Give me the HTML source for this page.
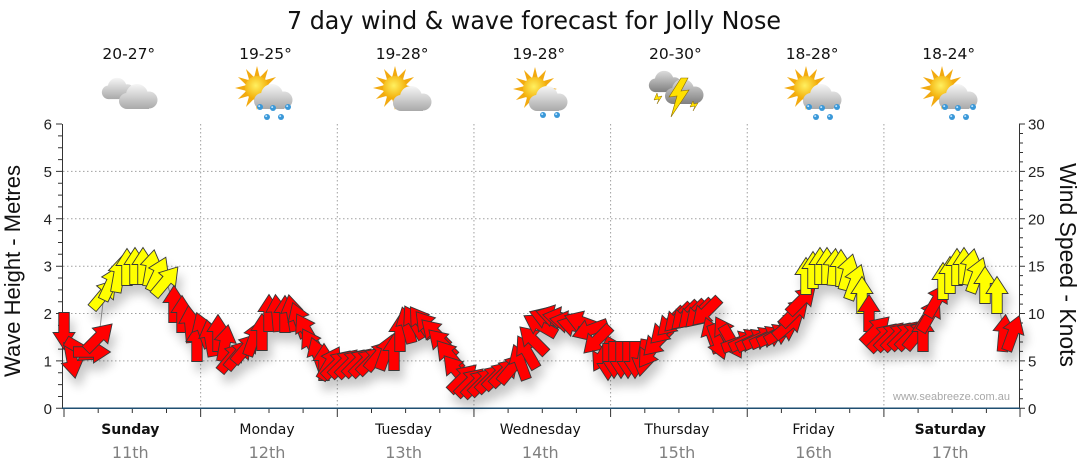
<!DOCTYPE html>
<html>
<head>
<meta charset="utf-8">
<style>
html,body{margin:0;padding:0;background:#fff;}
svg{display:block;}
.tl{font-family:"Liberation Sans",Arial,sans-serif;font-size:15px;fill:#222;}
.tmp{font-family:"DejaVu Sans","Liberation Sans",sans-serif;font-size:15.5px;fill:#111;text-anchor:middle;}
.dn{font-family:"DejaVu Sans","Liberation Sans",sans-serif;font-size:14px;fill:#111;text-anchor:middle;}
.dd{font-family:"DejaVu Sans","Liberation Sans",sans-serif;font-size:16px;fill:#808080;text-anchor:middle;}
.r{fill:#ff0000;}
.y{fill:#ffff00;}
</style>
</head>
<body>
<svg width="1080" height="475" viewBox="0 0 1080 475" xmlns="http://www.w3.org/2000/svg">
<defs>
  <path id="A" d="M0,-18.5 L11,-1.5 L5.25,-1.5 L5.25,18.5 L-5.25,18.5 L-5.25,-1.5 L-11,-1.5 Z" stroke="#383838" stroke-width="0.9" stroke-linejoin="miter"/>
  <filter id="sh" x="-5%" y="-30%" width="115%" height="180%">
    <feGaussianBlur in="SourceAlpha" stdDeviation="5" result="bl"/>
    <feOffset in="bl" dx="4" dy="9" result="of"/>
    <feComponentTransfer in="of" result="sf"><feFuncA type="linear" slope="0.22"/></feComponentTransfer>
    <feMerge><feMergeNode in="sf"/><feMergeNode in="SourceGraphic"/></feMerge>
  </filter>
  <linearGradient id="cg" gradientUnits="userSpaceOnUse" x1="0" y1="1" x2="0" y2="27">
    <stop offset="0" stop-color="#f6f6f6"/><stop offset="1" stop-color="#a6a6a6"/>
  </linearGradient>
  <linearGradient id="cgd" gradientUnits="userSpaceOnUse" x1="0" y1="1" x2="0" y2="27">
    <stop offset="0" stop-color="#dcdcdc"/><stop offset="1" stop-color="#7c7c7c"/>
  </linearGradient>
  <radialGradient id="sg" cx="0.45" cy="0.4" r="0.6">
    <stop offset="0" stop-color="#fff060"/><stop offset="1" stop-color="#f2a800"/>
  </radialGradient>
  <g id="cl" fill="url(#cg)">
    <circle cx="9" cy="18" r="8"/><circle cx="19" cy="12" r="11"/><circle cx="31" cy="17" r="8.5"/><rect x="9" y="14" width="22" height="12"/>
  </g>
  <g id="cld" fill="url(#cgd)">
    <circle cx="9" cy="18" r="8"/><circle cx="19" cy="12" r="11"/><circle cx="31" cy="17" r="8.5"/><rect x="9" y="14" width="22" height="12"/>
  </g>
  <g id="sun">
    <polygon fill="#f2aa10" points="22,0 10.63,2.85 19.05,11 7.78,7.78 11,19.05 2.85,10.63 0,22 -2.85,10.63 -11,19.05 -7.78,7.78 -19.05,11 -10.63,2.85 -22,0 -10.63,-2.85 -19.05,-11 -7.78,-7.78 -11,-19.05 -2.85,-10.63 0,-22 2.85,-10.63 11,-19.05 7.78,-7.78 19.05,-11 10.63,-2.85"/>
    <circle r="12" fill="url(#sg)"/>
  </g>
  <g id="dr"><circle r="3" fill="#3a98d8"/><circle cx="-0.8" cy="-0.9" r="1" fill="#bfe4ff"/></g>
</defs>

<!-- title -->
<text x="534" y="29" font-family="DejaVu Sans, Liberation Sans, sans-serif" font-size="25" fill="#111" text-anchor="middle" textLength="494" lengthAdjust="spacingAndGlyphs">7 day wind &amp; wave forecast for Jolly Nose</text>

<!-- temperatures -->
<text class="tmp" x="128.8" y="59">20-27°</text>
<text class="tmp" x="265.5" y="59">19-25°</text>
<text class="tmp" x="402.1" y="59">19-28°</text>
<text class="tmp" x="538.8" y="59">19-28°</text>
<text class="tmp" x="675.4" y="59">20-30°</text>
<text class="tmp" x="812.1" y="59">18-28°</text>
<text class="tmp" x="948.7" y="59">18-24°</text>

<!-- icons -->
<!-- Sunday -->
<use href="#cl" transform="translate(101,77) scale(0.85)"/>
<use href="#cl" transform="translate(118,83)"/>
<!-- Monday -->
<use href="#sun" transform="translate(257,88)"/>
<use href="#cl" transform="translate(253,83)"/>
<use href="#dr" transform="translate(260,107)"/><use href="#dr" transform="translate(273,108)"/><use href="#dr" transform="translate(288,107)"/><use href="#dr" transform="translate(267,117)"/><use href="#dr" transform="translate(281,117)"/>
<!-- Tuesday -->
<use href="#sun" transform="translate(395,88)"/>
<use href="#cl" transform="translate(392,85)"/>
<!-- Wednesday -->
<use href="#sun" transform="translate(535,89)"/>
<use href="#cl" transform="translate(528,85)"/>
<use href="#dr" transform="translate(543,115)"/><use href="#dr" transform="translate(557,115)"/>
<!-- Thursday -->
<use href="#cld" transform="translate(648,70) scale(0.85)"/>
<use href="#cld" transform="translate(664,78)"/>
<polygon points="681,78 669,97 677,96 671,117 689,90 681,91 688,78" fill="#ffe000" stroke="#8a6a00" stroke-width="0.6"/>
<polygon points="657,93 654,100 659,99 657,104 662,96 658,97" fill="#ffe000" stroke="#8a6a00" stroke-width="0.5"/>
<polygon points="693,101 690,107 695,106 693,111 698,103 694,104" fill="#ffe000" stroke="#8a6a00" stroke-width="0.5"/>
<!-- Friday -->
<use href="#sun" transform="translate(806,88)"/>
<use href="#cl" transform="translate(802,83)"/>
<use href="#dr" transform="translate(809,107)"/><use href="#dr" transform="translate(822,108)"/><use href="#dr" transform="translate(837,107)"/><use href="#dr" transform="translate(816,117)"/><use href="#dr" transform="translate(830,117)"/>
<!-- Saturday -->
<use href="#sun" transform="translate(942,88)"/>
<use href="#cl" transform="translate(938,83)"/>
<use href="#dr" transform="translate(945,107)"/><use href="#dr" transform="translate(958,108)"/><use href="#dr" transform="translate(973,107)"/><use href="#dr" transform="translate(952,117)"/><use href="#dr" transform="translate(966,117)"/>

<!-- grid -->
<g stroke="#a0a0a0" stroke-width="1" stroke-dasharray="1.5,2.5" fill="none">
  <path d="M63 360.9H1019M63 313.5H1019M63 266.2H1019M63 218.8H1019M63 171.4H1019"/>
  <path d="M200.65 124V408M337.3 124V408M473.95 124V408M610.6 124V408M747.25 124V408M883.9 124V408"/>
</g>

<!-- axes -->
<g stroke="#333" stroke-width="1" fill="none">
  <path d="M62.5 124V408.5M1019.5 124V408.5"/>
  <path d="M56 408.3h6M56 360.9h6M56 313.5h6M56 266.2h6M56 218.8h6M56 171.4h6M56 124h6"/>
  <path d="M58 396.5h4M58 384.6h4M58 372.8h4M58 349.1h4M58 337.2h4M58 325.4h4M58 301.7h4M58 289.9h4M58 278h4M58 254.3h4M58 242.5h4M58 230.6h4M58 206.9h4M58 195.1h4M58 183.2h4M58 159.6h4M58 147.7h4M58 135.9h4"/>
  <path d="M1019 408.3h6M1019 360.9h6M1019 313.5h6M1019 266.2h6M1019 218.8h6M1019 171.4h6M1019 124h6"/>
  <path d="M1019 398.8h4M1019 389.3h4M1019 379.9h4M1019 370.4h4M1019 351.4h4M1019 342h4M1019 332.5h4M1019 323h4M1019 304.1h4M1019 294.6h4M1019 285.1h4M1019 275.6h4M1019 256.7h4M1019 247.2h4M1019 237.7h4M1019 228.3h4M1019 209.3h4M1019 199.8h4M1019 190.4h4M1019 180.9h4M1019 161.9h4M1019 152.5h4M1019 143h4M1019 133.5h4"/>
  <path d="M64 408v9M200.65 408v9M337.3 408v9M473.95 408v9M610.6 408v9M747.25 408v9M883.9 408v9M1020 408v9"/>
  <path d="M98.2 408v5M132.3 408v5M166.5 408v5M234.8 408v5M269 408v5M303.1 408v5M371.5 408v5M405.6 408v5M439.8 408v5M508.1 408v5M542.3 408v5M576.4 408v5M644.8 408v5M678.9 408v5M713.1 408v5M781.4 408v5M815.6 408v5M849.7 408v5M918.1 408v5M952.2 408v5M986.4 408v5"/>
</g>
<path d="M62 408.3H1020" stroke="#1f4f72" stroke-width="1.5"/>

<!-- tick labels -->
<g class="tl" text-anchor="end">
  <text x="52" y="413.8">0</text><text x="52" y="366.4">1</text><text x="52" y="319">2</text><text x="52" y="271.7">3</text><text x="52" y="224.3">4</text><text x="52" y="176.9">5</text><text x="52" y="129.5">6</text>
</g>
<g class="tl">
  <text x="1028" y="413.8">0</text><text x="1028" y="366.4">5</text><text x="1028" y="319">10</text><text x="1028" y="271.7">15</text><text x="1028" y="224.3">20</text><text x="1028" y="176.9">25</text><text x="1028" y="129.5">30</text>
</g>

<!-- axis titles -->
<text transform="translate(20,271) rotate(-90)" font-family="Liberation Sans, Arial, sans-serif" font-size="22" fill="#111" text-anchor="middle" textLength="212" lengthAdjust="spacingAndGlyphs">Wave Height - Metres</text>
<text transform="translate(1060,265) rotate(90)" font-family="Liberation Sans, Arial, sans-serif" font-size="23" fill="#111" text-anchor="middle" textLength="204" lengthAdjust="spacingAndGlyphs">Wind Speed - Knots</text>

<!-- day labels -->
<text class="dn" x="130.3" y="434" font-weight="bold">Sunday</text>
<text class="dn" x="267" y="434">Monday</text>
<text class="dn" x="403.6" y="434">Tuesday</text>
<text class="dn" x="540.3" y="434">Wednesday</text>
<text class="dn" x="676.9" y="434">Thursday</text>
<text class="dn" x="813.6" y="434">Friday</text>
<text class="dn" x="950.2" y="434" font-weight="bold">Saturday</text>
<text class="dd" x="130.3" y="458">11th</text>
<text class="dd" x="267" y="458">12th</text>
<text class="dd" x="403.6" y="458">13th</text>
<text class="dd" x="540.3" y="458">14th</text>
<text class="dd" x="676.9" y="458">15th</text>
<text class="dd" x="813.6" y="458">16th</text>
<text class="dd" x="950.2" y="458">17th</text>

<!-- watermark -->
<text x="893" y="400" font-family="Liberation Sans, Arial, sans-serif" font-size="11" fill="#a8a8a8" textLength="117" lengthAdjust="spacing">www.seabreeze.com.au</text>

<!-- connecting line -->
<polyline fill="none" stroke="#999" stroke-width="1" points="64,331 72,360 82,350 92,352 99,337 104,294 111,283 119,274 127,267 135,266 143,266 151,268 158,274 166,281 174,304 182,314 190,324 197,343 203,330 210,338 218,333 225,343 232,357 239,354 246,348 254,338 262,332 269,313 277,313 285,314 292,313 299,320 306,330 312,345 318,355 324,362 330,363 337,364 344,363 351,363 358,362 365,362 372,360 379,355 386,352 394,352 400,333 407,325 414,322 421,322 428,326 435,333 442,343 449,355 456,370 463,378 470,382 477,383 484,381 491,378 498,375 505,372 512,368 520,362 527,352 533,340 540,325 547,318 554,316 561,318 568,322 575,326 582,322 590,330 597,340 603,355 608,362 614,360 621,360 628,360 635,360 643,358 650,352 657,342 664,330 671,322 678,318 685,316 692,315 699,314 706,312 712,335 718,342 725,333 732,342 740,342 747,340 754,340 761,338 768,337 775,335 782,332 789,325 795,312 802,300 806,276 813,270 820,266 827,266 834,267 841,268 848,272 855,282 862,295 869,313 876,330 883,337 890,336 897,336 904,335 911,335 918,334 923,333 930,315 937,300 943,281 950,275 957,267 964,266 971,267 977,275 985,285 997,295 1004,333 1013,333"/>

<!-- arrows -->
<g filter="url(#sh)">
<use href="#A" class="r" transform="translate(64 331) rotate(180)"/>
<use href="#A" class="r" transform="translate(72 360) rotate(170)"/>
<use href="#A" class="r" transform="translate(82 350) rotate(120)"/>
<use href="#A" class="r" transform="translate(92 352) rotate(90)"/>
<use href="#A" class="r" transform="translate(99 337) rotate(45)"/>
<use href="#A" class="y" transform="translate(104 294) rotate(40)"/>
<use href="#A" class="y" transform="translate(111 283) rotate(25)"/>
<use href="#A" class="y" transform="translate(119 274) rotate(10)"/>
<use href="#A" class="y" transform="translate(127 267) rotate(0)"/>
<use href="#A" class="y" transform="translate(135 266) rotate(0)"/>
<use href="#A" class="y" transform="translate(143 266) rotate(0)"/>
<use href="#A" class="y" transform="translate(151 268) rotate(10)"/>
<use href="#A" class="y" transform="translate(158 274) rotate(25)"/>
<use href="#A" class="y" transform="translate(166 281) rotate(40)"/>
<use href="#A" class="r" transform="translate(174 304) rotate(0)"/>
<use href="#A" class="r" transform="translate(182 314) rotate(0)"/>
<use href="#A" class="r" transform="translate(190 324) rotate(-5)"/>
<use href="#A" class="r" transform="translate(197 343) rotate(0)"/>
<use href="#A" class="r" transform="translate(203 330) rotate(-20)"/>
<use href="#A" class="r" transform="translate(210 338) rotate(-10)"/>
<use href="#A" class="r" transform="translate(218 333) rotate(0)"/>
<use href="#A" class="r" transform="translate(225 343) rotate(10)"/>
<use href="#A" class="r" transform="translate(232 357) rotate(40)"/>
<use href="#A" class="r" transform="translate(239 354) rotate(40)"/>
<use href="#A" class="r" transform="translate(246 348) rotate(40)"/>
<use href="#A" class="r" transform="translate(254 338) rotate(20)"/>
<use href="#A" class="r" transform="translate(262 332) rotate(0)"/>
<use href="#A" class="r" transform="translate(269 313) rotate(0)"/>
<use href="#A" class="r" transform="translate(277 313) rotate(-5)"/>
<use href="#A" class="r" transform="translate(285 314) rotate(0)"/>
<use href="#A" class="r" transform="translate(292 313) rotate(-10)"/>
<use href="#A" class="r" transform="translate(299 320) rotate(-20)"/>
<use href="#A" class="r" transform="translate(306 330) rotate(-30)"/>
<use href="#A" class="r" transform="translate(312 345) rotate(-30)"/>
<use href="#A" class="r" transform="translate(318 355) rotate(-20)"/>
<use href="#A" class="r" transform="translate(324 362) rotate(0)"/>
<use href="#A" class="r" transform="translate(330 363) rotate(30)"/>
<use href="#A" class="r" transform="translate(337 364) rotate(45)"/>
<use href="#A" class="r" transform="translate(344 363) rotate(45)"/>
<use href="#A" class="r" transform="translate(351 363) rotate(45)"/>
<use href="#A" class="r" transform="translate(358 362) rotate(45)"/>
<use href="#A" class="r" transform="translate(365 362) rotate(45)"/>
<use href="#A" class="r" transform="translate(372 360) rotate(45)"/>
<use href="#A" class="r" transform="translate(379 355) rotate(40)"/>
<use href="#A" class="r" transform="translate(386 352) rotate(20)"/>
<use href="#A" class="r" transform="translate(394 352) rotate(0)"/>
<use href="#A" class="r" transform="translate(400 333) rotate(0)"/>
<use href="#A" class="r" transform="translate(407 325) rotate(-15)"/>
<use href="#A" class="r" transform="translate(414 322) rotate(-30)"/>
<use href="#A" class="r" transform="translate(421 322) rotate(-35)"/>
<use href="#A" class="r" transform="translate(428 326) rotate(-40)"/>
<use href="#A" class="r" transform="translate(435 333) rotate(-45)"/>
<use href="#A" class="r" transform="translate(442 343) rotate(-45)"/>
<use href="#A" class="r" transform="translate(449 355) rotate(-40)"/>
<use href="#A" class="r" transform="translate(456 370) rotate(-40)"/>
<use href="#A" class="r" transform="translate(463 378) rotate(45)"/>
<use href="#A" class="r" transform="translate(470 382) rotate(45)"/>
<use href="#A" class="r" transform="translate(477 383) rotate(45)"/>
<use href="#A" class="r" transform="translate(484 381) rotate(45)"/>
<use href="#A" class="r" transform="translate(491 378) rotate(45)"/>
<use href="#A" class="r" transform="translate(498 375) rotate(45)"/>
<use href="#A" class="r" transform="translate(505 372) rotate(45)"/>
<use href="#A" class="r" transform="translate(512 368) rotate(40)"/>
<use href="#A" class="r" transform="translate(520 362) rotate(-20)"/>
<use href="#A" class="r" transform="translate(527 352) rotate(-30)"/>
<use href="#A" class="r" transform="translate(533 340) rotate(-45)"/>
<use href="#A" class="r" transform="translate(540 325) rotate(-60)"/>
<use href="#A" class="r" transform="translate(547 318) rotate(-70)"/>
<use href="#A" class="r" transform="translate(554 316) rotate(-75)"/>
<use href="#A" class="r" transform="translate(561 318) rotate(-80)"/>
<use href="#A" class="r" transform="translate(568 322) rotate(-80)"/>
<use href="#A" class="r" transform="translate(575 326) rotate(-75)"/>
<use href="#A" class="r" transform="translate(582 322) rotate(-70)"/>
<use href="#A" class="r" transform="translate(590 330) rotate(-110)"/>
<use href="#A" class="r" transform="translate(597 340) rotate(-135)"/>
<use href="#A" class="r" transform="translate(603 355) rotate(-150)"/>
<use href="#A" class="r" transform="translate(608 362) rotate(180)"/>
<use href="#A" class="r" transform="translate(614 360) rotate(180)"/>
<use href="#A" class="r" transform="translate(621 360) rotate(180)"/>
<use href="#A" class="r" transform="translate(628 360) rotate(180)"/>
<use href="#A" class="r" transform="translate(635 360) rotate(180)"/>
<use href="#A" class="r" transform="translate(643 358) rotate(190)"/>
<use href="#A" class="r" transform="translate(650 352) rotate(215)"/>
<use href="#A" class="r" transform="translate(657 342) rotate(225)"/>
<use href="#A" class="r" transform="translate(664 330) rotate(225)"/>
<use href="#A" class="r" transform="translate(671 322) rotate(225)"/>
<use href="#A" class="r" transform="translate(678 318) rotate(225)"/>
<use href="#A" class="r" transform="translate(685 316) rotate(225)"/>
<use href="#A" class="r" transform="translate(692 315) rotate(225)"/>
<use href="#A" class="r" transform="translate(699 314) rotate(225)"/>
<use href="#A" class="r" transform="translate(706 312) rotate(225)"/>
<use href="#A" class="r" transform="translate(712 335) rotate(-20)"/>
<use href="#A" class="r" transform="translate(718 342) rotate(160)"/>
<use href="#A" class="r" transform="translate(725 333) rotate(-30)"/>
<use href="#A" class="r" transform="translate(732 342) rotate(150)"/>
<use href="#A" class="r" transform="translate(740 342) rotate(70)"/>
<use href="#A" class="r" transform="translate(747 340) rotate(65)"/>
<use href="#A" class="r" transform="translate(754 340) rotate(65)"/>
<use href="#A" class="r" transform="translate(761 338) rotate(65)"/>
<use href="#A" class="r" transform="translate(768 337) rotate(65)"/>
<use href="#A" class="r" transform="translate(775 335) rotate(65)"/>
<use href="#A" class="r" transform="translate(782 332) rotate(60)"/>
<use href="#A" class="r" transform="translate(789 325) rotate(50)"/>
<use href="#A" class="r" transform="translate(795 312) rotate(45)"/>
<use href="#A" class="r" transform="translate(802 300) rotate(45)"/>
<use href="#A" class="y" transform="translate(806 276) rotate(0)"/>
<use href="#A" class="y" transform="translate(813 270) rotate(0)"/>
<use href="#A" class="y" transform="translate(820 266) rotate(0)"/>
<use href="#A" class="y" transform="translate(827 266) rotate(0)"/>
<use href="#A" class="y" transform="translate(834 267) rotate(5)"/>
<use href="#A" class="y" transform="translate(841 268) rotate(0)"/>
<use href="#A" class="y" transform="translate(848 272) rotate(15)"/>
<use href="#A" class="y" transform="translate(855 282) rotate(20)"/>
<use href="#A" class="y" transform="translate(862 295) rotate(0)"/>
<use href="#A" class="r" transform="translate(869 313) rotate(0)"/>
<use href="#A" class="r" transform="translate(876 330) rotate(45)"/>
<use href="#A" class="r" transform="translate(883 337) rotate(45)"/>
<use href="#A" class="r" transform="translate(890 336) rotate(45)"/>
<use href="#A" class="r" transform="translate(897 336) rotate(45)"/>
<use href="#A" class="r" transform="translate(904 335) rotate(45)"/>
<use href="#A" class="r" transform="translate(911 335) rotate(45)"/>
<use href="#A" class="r" transform="translate(918 334) rotate(40)"/>
<use href="#A" class="r" transform="translate(923 333) rotate(0)"/>
<use href="#A" class="r" transform="translate(930 315) rotate(30)"/>
<use href="#A" class="r" transform="translate(937 300) rotate(30)"/>
<use href="#A" class="y" transform="translate(943 281) rotate(0)"/>
<use href="#A" class="y" transform="translate(950 275) rotate(0)"/>
<use href="#A" class="y" transform="translate(957 267) rotate(0)"/>
<use href="#A" class="y" transform="translate(964 266) rotate(0)"/>
<use href="#A" class="y" transform="translate(971 267) rotate(10)"/>
<use href="#A" class="y" transform="translate(977 275) rotate(20)"/>
<use href="#A" class="y" transform="translate(985 285) rotate(0)"/>
<use href="#A" class="y" transform="translate(997 295) rotate(0)"/>
<use href="#A" class="r" transform="translate(1004 333) rotate(5)"/>
<use href="#A" class="r" transform="translate(1013 333) rotate(20)"/>
</g>
</svg>
</body>
</html>
